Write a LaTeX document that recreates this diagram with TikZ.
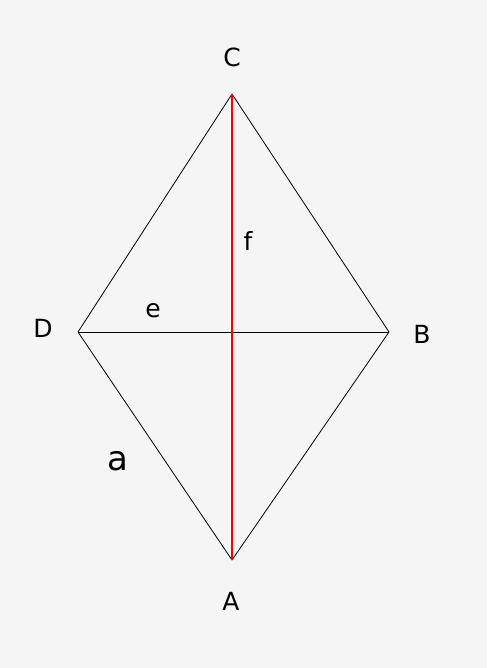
\documentclass[tikz,border=0pt]{standalone}
\usepackage{fontspec}
\setmainfont{DejaVu Sans}
\usetikzlibrary{positioning}

\begin{document}
\begin{tikzpicture}[x=1pt,y=-1pt,
                    lbl/.style={inner sep=0pt,font=\fontsize{25}{30}\selectfont},
                    side/.style={draw=black,line width=0.8pt}]
   \fill[gray!8] (0,0) rectangle (487,668);
   \useasboundingbox (0,0) rectangle (487,668);
   \coordinate (A) at (232,560);
   \coordinate (B) at (389,332);
   \coordinate (C) at (232,94);
   \coordinate (D) at (78,332);
   \node[lbl] (lA) at (231,601) {A};
   \node[lbl] (lB) at (422,334) {B};
   \node[lbl] (lC) at (232,57) {C};
   \node[lbl] (lD) at (43,328) {D};
   \node[lbl] (le) at (153,311) {e};
   \node[lbl] (lf) at (248,241) {f};
   \node[lbl,font=\fontsize{34}{40}\selectfont] (la) at (118,461) {a};
   \draw[side] (A) -- (B) -- (C) -- (D) -- cycle;
   \draw[side] (D) -- (B);
   \draw[red,line width=2pt] (C) -- (A);
\end{tikzpicture}
\end{document}
